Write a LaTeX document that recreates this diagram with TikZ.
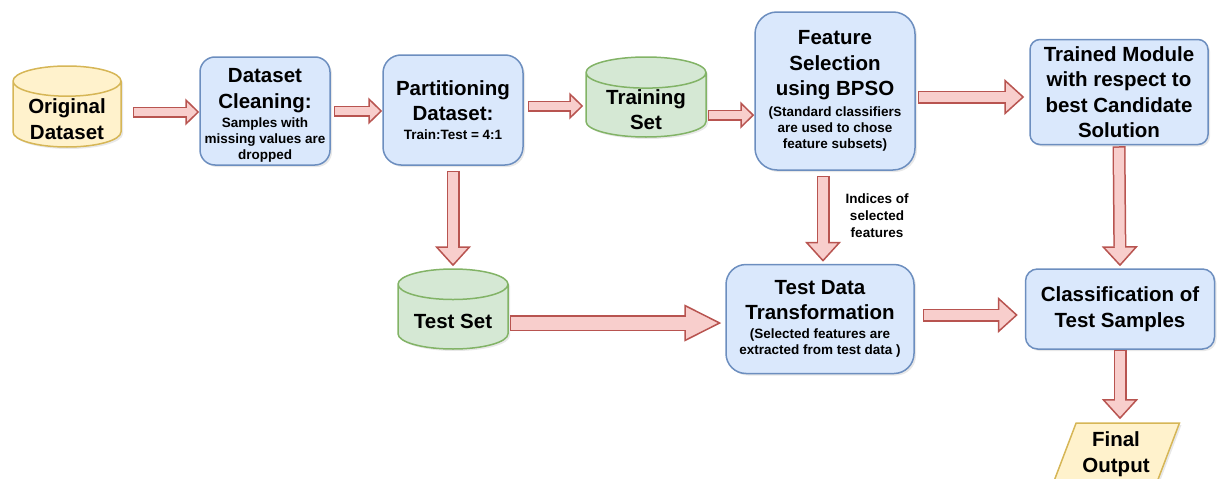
\documentclass[tikz,border=0pt]{standalone}
\usepackage{fontspec}
\setmainfont{Liberation Sans}
\usetikzlibrary{shapes.geometric,arrows.meta,shadows,calc}

\definecolor{boxfill}{HTML}{DAE8FC}
\definecolor{boxline}{HTML}{6C8EBF}
\definecolor{datafill}{HTML}{D5E8D4}
\definecolor{dataline}{HTML}{82B366}
\definecolor{srcfill}{HTML}{FFF2CC}
\definecolor{srcline}{HTML}{D6B656}
\definecolor{arrfill}{HTML}{F8CECC}
\definecolor{arrline}{HTML}{B85450}

\newcommand{\titlefont}{\fontsize{20.5}{25.5}\selectfont\bfseries}
\newcommand{\notefont}{\fontsize{13.5}{16}\selectfont\bfseries}
% text of a data store sits low in the body, below the top ellipse
\newcommand{\cyltext}[1]{\raisebox{-12pt}[0pt][0pt]{\begin{tabular}{@{}c@{}}#1\end{tabular}}}

\tikzset{
  softshadow/.style={drop shadow={opacity=0.18, shadow xshift=2pt, shadow yshift=-2pt}},
  procbox/.style={draw=boxline, fill=boxfill, line width=1.5pt, rounded corners=#1,
    align=flush center, inner sep=0pt, font=\titlefont, softshadow},
  datacyl/.style={cylinder, shape border rotate=90, aspect=0.39, draw=dataline,
    fill=datafill, line width=1.5pt, inner sep=0pt, font=\titlefont, softshadow},
  fatarrow/.style n args={3}{draw=arrline, line width=#1,
    -{Triangle[length=#3, width=#2, line width=1.5pt, fill=arrfill]},
    postaction={draw=arrfill, line width=#1-3pt, -, shorten <=1.5pt, shorten >=#3-4pt}},
  smallarrow/.style={fatarrow={11pt}{27pt}{14pt}},
  midarrow/.style={fatarrow={13pt}{36pt}{20pt}},
  bigarrow/.style={fatarrow={16pt}{37pt}{37pt}},
}

\begin{document}
\begin{tikzpicture}[x=1pt,y=-1pt]
  \useasboundingbox (0,0) rectangle (1218,479);

  % data stores
  \node[datacyl, draw=srcline, fill=srcfill, minimum width=108pt, minimum height=81pt,
    anchor=shape center] (orig) at (67,106.5) {\cyltext{Original\\Dataset}};
  \node[datacyl, minimum width=120pt, minimum height=80pt, anchor=shape center]
    (train) at (646,97) {\cyltext{Training\\Set}};
  \node[datacyl, minimum width=110pt, minimum height=80pt, anchor=shape center]
    (test) at (453,309) {\cyltext{Test Set}};

  % processing steps
  \node[procbox=15pt, minimum width=130pt, minimum height=108pt, text width=128pt] (clean) at (265,111)
    {\rule{0pt}{23pt}Dataset\\Cleaning:\par\vspace{3pt}\notefont Samples with\\missing values are\\dropped\par};
  \node[procbox=18pt, minimum width=140pt, minimum height=110pt, text width=136pt] (part) at (453,110)
    {Partitioning\\Dataset:\par\vspace{3pt}\notefont Train:Test = 4:1\par};
  \node[procbox=22pt, minimum width=160pt, minimum height=158pt, text width=156pt] (feat) at (835,91)
    {Feature\\Selection\\using BPSO\par\vspace{5pt}\notefont (Standard classifiers\\are used to chose\\feature subsets)\par};
  \node[procbox=10pt, minimum width=178pt, minimum height=105pt] (trained) at (1119,92)
    {Trained Module\\with respect to\\best Candidate\\Solution};
  \node[procbox=20pt, minimum width=188pt, minimum height=109pt, text width=184pt] (tdt) at (820,319)
    {Test Data\\Transformation\par\vspace{3pt}\notefont (Selected features are\\extracted from test data )\par};
  \node[procbox=12pt, minimum width=189pt, minimum height=80pt] (cls) at (1120,309)
    {Classification of\\Test Samples};
  \node[trapezium, trapezium left angle=66, trapezium right angle=114, trapezium stretches=true,
    draw=srcline, fill=srcfill, line width=1.5pt, minimum width=127pt, minimum height=62pt,
    align=center, inner sep=0pt, font=\titlefont, softshadow] (final) at (1116,454) {Final\\Output};

  % connectors
  \draw[smallarrow] ($(orig.east |- clean.west)+(11,1)$) -- ($(clean.west)+(0,1)$);
  \draw[smallarrow] ([xshift=3pt]clean.east) -- (clean.east -| part.west);
  \draw[smallarrow] ($(part.east)+(4,-4)$) -- ($(part.east -| train.west)+(-2,-4)$);
  \draw[smallarrow] ($(train.east)+(1,10)$) -- ($(train.east -| feat.west)+(0,10)$);
  \draw[midarrow] ($(feat.east)+(2,6)$) -- ($(feat.east -| trained.west)+(-5,6)$);
  \draw[midarrow] ([yshift=-5pt]part.south) -- ([yshift=2pt]part.south |- test.north);
  \draw[bigarrow] ($(test.east)+(1,6)$) -- ($(test.east -| tdt.west)+(-4,6)$);
  \draw[midarrow] ($(feat.south)+(-12,5)$) -- ($(tdt.north -| feat.south)+(-12,-2)$);
  \draw[midarrow] ($(tdt.east)+(8,-4)$) -- ($(tdt.east -| cls.west)+(-7,-4)$);
  \draw[midarrow] ([yshift=-1pt]trained.south) -- ([yshift=2pt]cls.north);
  \draw[midarrow] (cls.south) -- ($(cls.south |- final.north)+(0,-3)$);

  \node[fill=white, align=center, inner sep=1.5pt, font=\fontsize{13.5}{17}\selectfont\bfseries] (idx) at (877,216)
    {Indices of\\selected\\features};
\end{tikzpicture}
\end{document}
